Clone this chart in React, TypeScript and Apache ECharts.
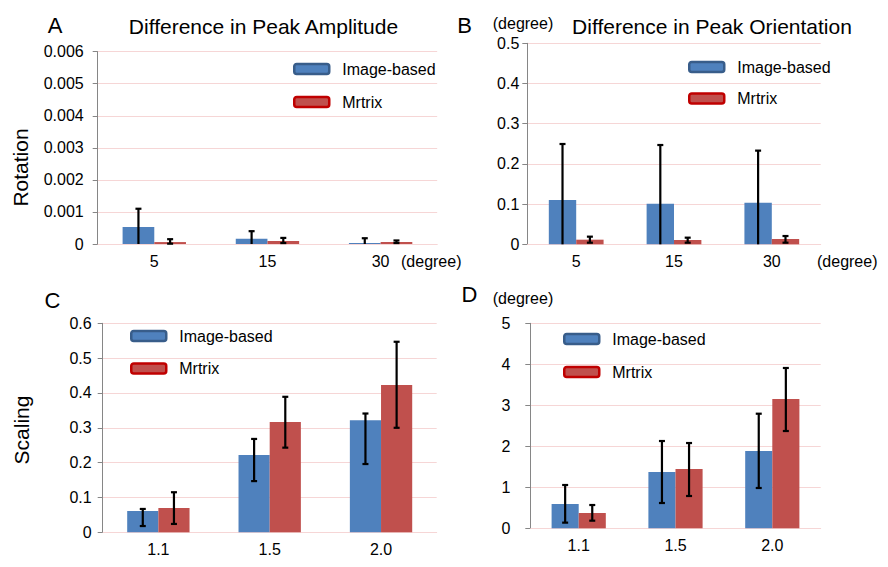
import React, { useEffect, useRef } from "react";
import * as echarts from "echarts";

const rotationCats = ["5", "15", "30"];
const scalingCats = ["1.1", "1.5", "2.0"];

// A: amplitude difference, rotation
const ampRotImage = [0.00053, 0.000166, 0.00003];
const ampRotImageLow = [0, 0, 0];
const ampRotImageHigh = [0.0011, 0.0004, 0.00018];
const ampRotMrtrix = [0.00006, 0.000094, 0.00006];
const ampRotMrtrixLow = [0.00001, 0.00003, 0.00003];
const ampRotMrtrixHigh = [0.00015, 0.00019, 0.00011];

// B: orientation difference, rotation
const oriRotImage = [0.11, 0.101, 0.1035];
const oriRotImageLow = [0, 0, 0];
const oriRotImageHigh = [0.2495, 0.247, 0.233];
const oriRotMrtrix = [0.0115, 0.0107, 0.0132];
const oriRotMrtrixLow = [0.004, 0.004, 0.004];
const oriRotMrtrixHigh = [0.019, 0.0165, 0.0206];

// C: amplitude difference, scaling
const ampScaImage = [0.061, 0.222, 0.322];
const ampScaImageLow = [0.018, 0.147, 0.196];
const ampScaImageHigh = [0.067, 0.268, 0.341];
const ampScaMrtrix = [0.0698, 0.317, 0.423];
const ampScaMrtrixLow = [0.024, 0.243, 0.3];
const ampScaMrtrixHigh = [0.115, 0.389, 0.547];

// D: orientation difference, scaling
const oriScaImage = [0.593, 1.373, 1.885];
const oriScaImageLow = [0.138, 0.617, 0.983];
const oriScaImageHigh = [1.056, 2.129, 2.795];
const oriScaMrtrix = [0.373, 1.446, 3.154];
const oriScaMrtrixLow = [0.186, 0.788, 2.373];
const oriScaMrtrixHigh = [0.568, 2.08, 3.91];

const FONT = "'Liberation Sans', Arial, sans-serif";
const BLUE = "#4f81bd";
const RED = "#c0504d";
const GRID_COLOR = "#f6d6d6";

function errRender(offsetFrac: number) {
  return (params: any, api: any) => {
    const idx = api.value(0);
    const lo = api.value(1);
    const hi = api.value(2);
    const band = api.size([1, 0])[0];
    const cx = api.coord([idx, 0])[0] + offsetFrac * band;
    const yHi = api.coord([idx, hi])[1];
    const yLo = api.coord([idx, Math.max(lo, 0)])[1];
    const cap = 3;
    const style = { stroke: "#000", lineWidth: 2.2 };
    const children: any[] = [
      { type: "line", shape: { x1: cx, y1: yHi, x2: cx, y2: yLo }, style },
      { type: "line", shape: { x1: cx - cap, y1: yHi, x2: cx + cap, y2: yHi }, style },
    ];
    if (lo > 0) {
      children.push({ type: "line", shape: { x1: cx - cap, y1: yLo, x2: cx + cap, y2: yLo }, style });
    }
    return { type: "group", children };
  };
}

export default function App() {
  const ref = useRef<HTMLDivElement>(null);

  useEffect(() => {
    if (!ref.current) return;
    const chart = echarts.init(ref.current, null, { renderer: "svg" });

    const panels = [
      {
        cats: rotationCats,
        grid: { left: 97.7, top: 51.7, width: 339.5, height: 192.3 },
        max: 0.006, interval: 0.001, labelMargin: 14,
        img: [ampRotImage, ampRotImageLow, ampRotImageHigh],
        mrt: [ampRotMrtrix, ampRotMrtrixLow, ampRotMrtrixHigh],
        legend: { left: 293, top: 61, gap: 17 },
      },
      {
        cats: rotationCats,
        grid: { left: 527.3, top: 43.3, width: 293.4, height: 201 },
        max: 0.5, interval: 0.1, labelMargin: 8,
        img: [oriRotImage, oriRotImageLow, oriRotImageHigh],
        mrt: [oriRotMrtrix, oriRotMrtrixLow, oriRotMrtrixHigh],
        legend: { left: 688, top: 59, gap: 15.5 },
      },
      {
        cats: scalingCats,
        grid: { left: 102.7, top: 323.3, width: 334, height: 209 },
        max: 0.6, interval: 0.1, labelMargin: 11,
        img: [ampScaImage, ampScaImageLow, ampScaImageHigh],
        mrt: [ampScaMrtrix, ampScaMrtrixLow, ampScaMrtrixHigh],
        legend: { left: 130, top: 328, gap: 16.5 },
      },
      {
        cats: scalingCats,
        grid: { left: 530.3, top: 323.3, width: 290.4, height: 205 },
        max: 5, interval: 1, labelMargin: 20,
        img: [oriScaImage, oriScaImageLow, oriScaImageHigh],
        mrt: [oriScaMrtrix, oriScaMrtrixLow, oriScaMrtrixHigh],
        legend: { left: 563, top: 331, gap: 17 },
      },
    ];

    const grid: any[] = [];
    const xAxis: any[] = [];
    const yAxis: any[] = [];
    const series: any[] = [];
    const legend: any[] = [];

    panels.forEach((p, i) => {
      grid.push({ ...p.grid, containLabel: false });
      xAxis.push({
        type: "category",
        gridIndex: i,
        data: p.cats,
        axisLine: { show: true, lineStyle: { color: GRID_COLOR, width: 1 } },
        axisTick: { show: false },
        axisLabel: { fontSize: 16, color: "#000", margin: 9, fontFamily: FONT },
        splitLine: { show: false },
      });
      yAxis.push({
        type: "value",
        gridIndex: i,
        min: 0,
        max: p.max,
        interval: p.interval,
        axisLine: { show: true, lineStyle: { color: "#868686", width: 1 } },
        axisTick: { show: true, length: 5, lineStyle: { color: "#868686" } },
        axisLabel: { fontSize: 16, color: "#000", margin: p.labelMargin, fontFamily: FONT },
        splitLine: { show: true, lineStyle: { color: GRID_COLOR, width: 1 } },
      });
      series.push({
        type: "bar",
        name: "Image-based",
        xAxisIndex: i,
        yAxisIndex: i,
        data: p.img[0],
        barWidth: "28%",
        barGap: "0%",
        itemStyle: { color: BLUE },
      });
      series.push({
        type: "bar",
        name: "Mrtrix",
        xAxisIndex: i,
        yAxisIndex: i,
        data: p.mrt[0],
        barWidth: "28%",
        barGap: "0%",
        itemStyle: { color: RED },
      });
      series.push({
        type: "custom",
        xAxisIndex: i,
        yAxisIndex: i,
        z: 10,
        renderItem: errRender(-0.14),
        encode: { x: 0, y: [1, 2] },
        data: p.cats.map((_, k) => [k, p.img[1][k], p.img[2][k]]),
      });
      series.push({
        type: "custom",
        xAxisIndex: i,
        yAxisIndex: i,
        z: 10,
        renderItem: errRender(0.14),
        encode: { x: 0, y: [1, 2] },
        data: p.cats.map((_, k) => [k, p.mrt[1][k], p.mrt[2][k]]),
      });
      legend.push({
        left: p.legend.left,
        top: p.legend.top,
        orient: "vertical",
        padding: 0,
        itemWidth: 35,
        itemHeight: 10,
        itemGap: p.legend.gap,
        icon: "roundRect",
        selectedMode: false,
        textStyle: { fontSize: 16, lineHeight: 16, color: "#000", fontFamily: FONT, padding: [0, 0, 0, 8] },
        data: [
          { name: "Image-based", itemStyle: { color: BLUE, borderColor: "#385d8a", borderWidth: 2.5 } },
          { name: "Mrtrix", itemStyle: { color: RED, borderColor: "#c00000", borderWidth: 2.5 } },
        ],
      });
    });

    const txt = (text: string, x: number, y: number, fontSize: number, align = "center", rotation = 0) => ({
      type: "text",
      x,
      y,
      rotation,
      style: {
        text,
        fontSize,
        fontFamily: FONT,
        fill: "#000",
        textAlign: align,
        textVerticalAlign: "middle",
      },
    });

    const graphic = [
      txt("A", 55, 25, 22),
      txt("B", 464.5, 25, 22),
      txt("C", 52.5, 300, 22),
      txt("D", 469.5, 294, 22),
      txt("Difference in Peak Amplitude", 263.5, 26, 21),
      txt("Difference in Peak Orientation", 712, 26, 21),
      txt("(degree)", 523, 23.5, 16),
      txt("(degree)", 523, 298.5, 16),
      txt("(degree)", 401, 261, 16, "left"),
      txt("(degree)", 817, 261, 16, "left"),
      txt("Rotation", 20.5, 167.5, 21, "center", Math.PI / 2),
      txt("Scaling", 21.5, 430, 21, "center", Math.PI / 2),
    ];

    chart.setOption({
      animation: false,
      backgroundColor: "#fff",
      textStyle: { fontFamily: FONT },
      grid,
      xAxis,
      yAxis,
      series,
      legend,
      graphic,
    });

    return () => chart.dispose();
  }, []);

  return (
    <div
      ref={ref}
      style={{ position: "fixed", left: 0, top: 0, width: 888, height: 567 }}
    />
  );
}
